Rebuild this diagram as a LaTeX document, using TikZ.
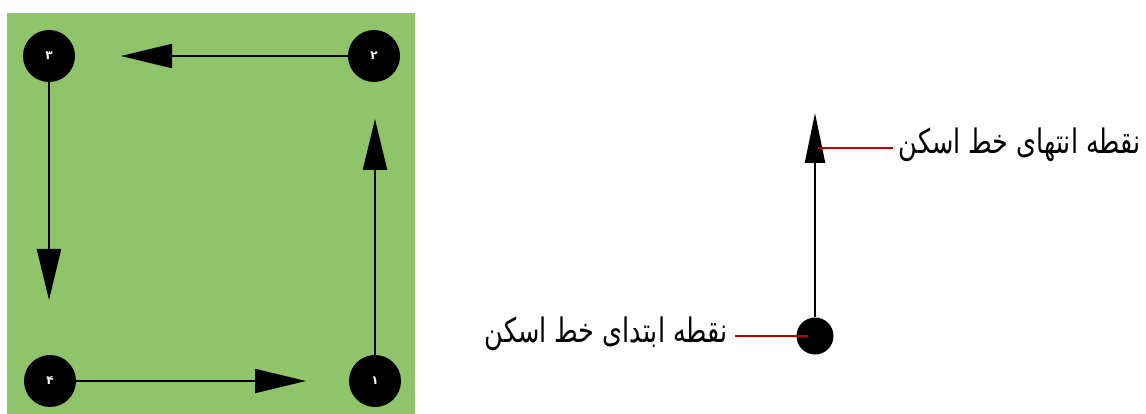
\documentclass[tikz,border=0pt]{standalone}
\usepackage{fontspec}
\usetikzlibrary{arrows.meta}
\TeXXeTstate=1
\newfontfamily\arabicfont[Script=Arabic]{DejaVu Sans}
\definecolor{bggreen}{RGB}{143,196,106}
\definecolor{redline}{RGB}{192,0,0}
\tikzset{
  dot/.style={circle,fill=black,minimum size=52pt,inner sep=0pt,text=white,font=\arabicfont\bfseries\fontsize{12}{12}\selectfont},
  bigarr/.style={line width=2.2pt,-{Triangle[length=51pt,width=24pt]}},
  smallarr/.style={line width=2.2pt,-{Triangle[length=50pt,width=20pt]}},
  lbl/.style={font=\arabicfont\fontsize{25}{30}\selectfont,inner sep=0pt},
  redl/.style={draw=redline,line width=2.2pt}
}
\begin{document}
\begin{tikzpicture}[x=1pt,y=-1pt]
\useasboundingbox (0,0) rectangle (1146,414);
\fill[bggreen] (7,13) rectangle (415,414);
\node[dot] (c3) at (49,56) {\beginR ۳\endR};
\node[dot] (c2) at (374,56) {\beginR ۲\endR};
\node[dot] (c4) at (50,381) {\beginR ۴\endR};
\node[dot] (c1) at (375,381) {\beginR ۱\endR};
\coordinate (t2) at (121,56);
\coordinate (t3) at (49,300);
\coordinate (t4) at (306,381);
\coordinate (t1) at (375,119);
\draw[bigarr] (c2.west) -- (t2);
\draw[bigarr] (c3.south) -- (t3);
\draw[bigarr] (c4.east) -- (t4);
\draw[bigarr] (c1.north) -- (t1);
% right part
\node[circle,fill=black,minimum size=37pt,inner sep=0pt] (s) at (815,336) {};
\coordinate (e) at (815,113);
\draw[smallarr] (s.north) -- (e);
\coordinate (em) at (818,148);
\coordinate (sm) at (808,336);
\node[lbl,anchor=base east] (endl) at (1141,154) {\scalebox{1.02}[1.35]{\beginR نقطه انتهای خط اسکن\endR}};
\node[lbl,anchor=base east] (startl) at (728,342) {\scalebox{1.02}[1.35]{\beginR نقطه ابتدای خط اسکن\endR}};
\draw[redl] (em) -- (em -| 893,0);
\draw[redl] (sm) -- (sm -| 735,0);
\end{tikzpicture}
\end{document}
